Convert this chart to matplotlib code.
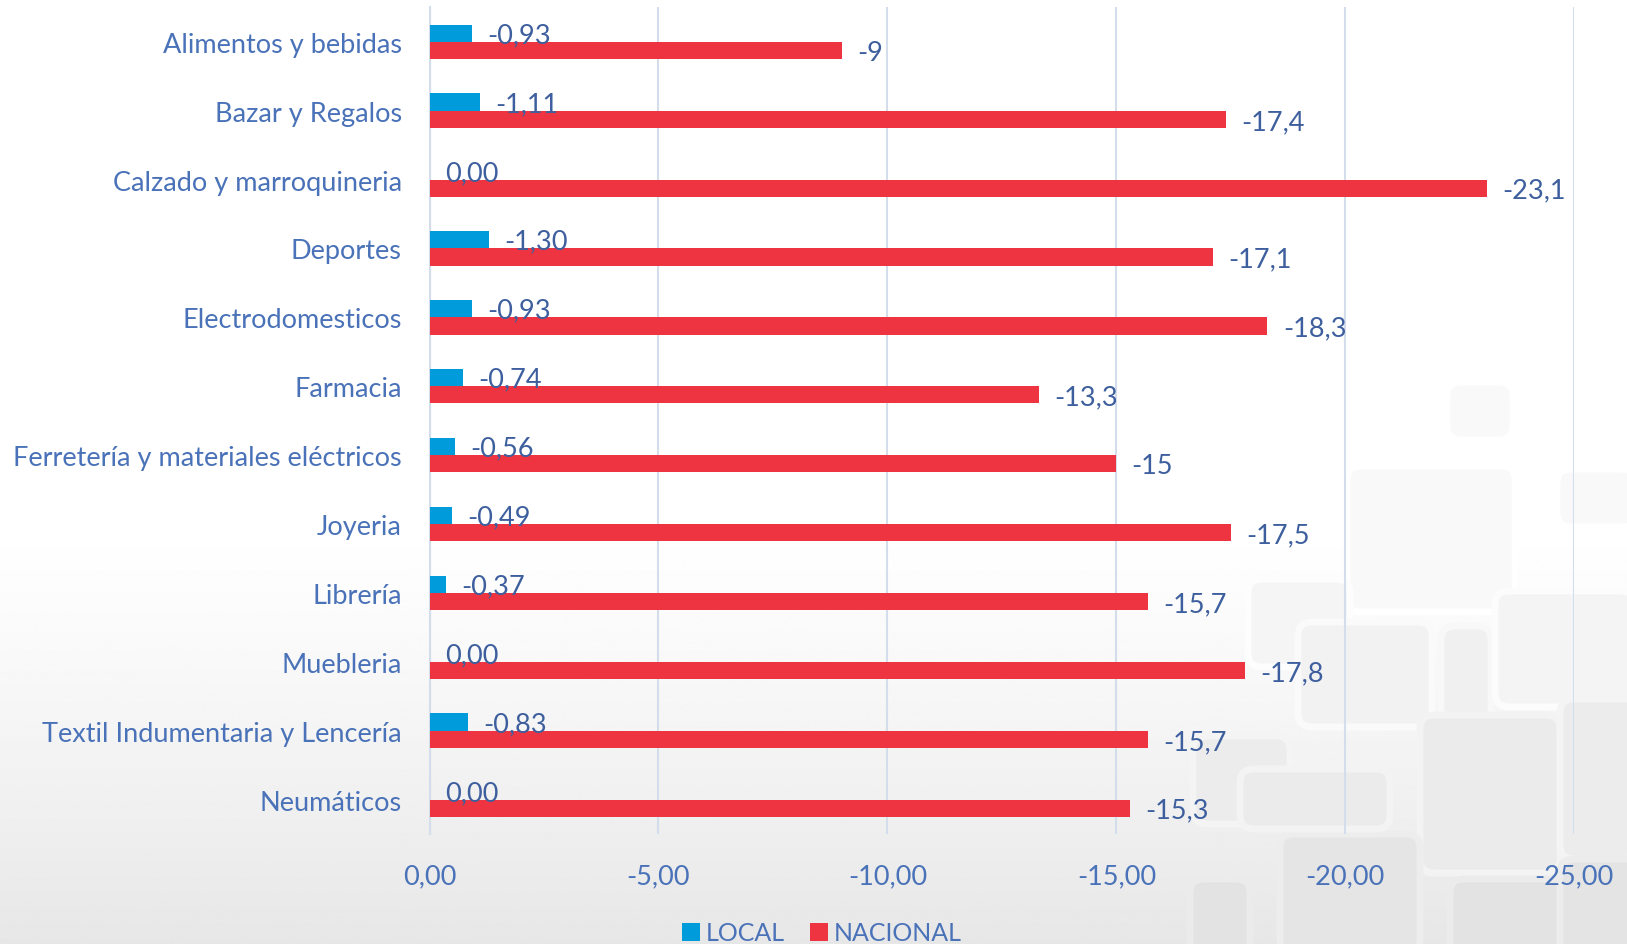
import numpy as np
import matplotlib
matplotlib.use("Agg")
import matplotlib.pyplot as plt
from matplotlib.patches import FancyBboxPatch

# data
categories = ["Alimentos y bebidas", "Bazar y Regalos", "Calzado y marroquineria",
              "Deportes", "Electrodomesticos", "Farmacia",
              "Ferretería y materiales eléctricos", "Joyeria", "Librería",
              "Muebleria", "Textil Indumentaria y Lencería", "Neumáticos"]
local_vals = [-0.93, -1.11, 0.00, -1.30, -0.93, -0.74, -0.56, -0.49, -0.37, 0.00, -0.83, 0.00]
nacional_vals = [-9, -17.4, -23.1, -17.1, -18.3, -13.3, -15, -17.5, -15.7, -17.8, -15.7, -15.3]
x_ticks = [0, -5, -10, -15, -20, -25]

blue = "#009BDB"
red = "#EE3440"
txt = "#4A72B8"
lbl = "#3E5F9E"
fs = 19.5

plt.rcParams["font.family"] = ["Lato", "DejaVu Sans"]

W, H = 1627, 945
fig = plt.figure(figsize=(W / 100, H / 100), dpi=100)


def bg_gray(yy):
    s = np.clip((yy / H - 0.55) / 0.45, 0, 1) ** 1.2
    return 1 - s * (1 - 0.905)


# background: white to light grey gradient plus rounded tile pattern
bg = fig.add_axes([0, 0, 1, 1], zorder=0)
col = bg_gray(np.linspace(0, H, 400))
grad = np.repeat(col[:, None], 2, axis=1)
bg.imshow(grad, cmap="gray", vmin=0, vmax=1, aspect="auto", extent=[0, W, H, 0])
tiles = [(1447, 383, 66, 58), (1557, 470, 80, 58),
         (1347, 467, 168, 146), (1248, 580, 102, 88),
         (1298, 623, 134, 105), (1441, 627, 50, 180),
         (1495, 592, 140, 116), (1193, 737, 97, 88),
         (1420, 716, 140, 158), (1560, 700, 80, 160),
         (1280, 835, 140, 120), (1450, 880, 180, 80),
         (1240, 770, 150, 60), (1560, 860, 80, 100),
         (1190, 880, 60, 80)]
for x, y, w, h in tiles:
    g = bg_gray(y + h / 2) - 0.022
    e = min(1.0, bg_gray(y + h / 2) + 0.01)
    bg.add_patch(FancyBboxPatch((x, y), w, h, boxstyle="round,pad=0,rounding_size=14",
                                facecolor=(g, g, g + 0.004), edgecolor=(e, e, e),
                                linewidth=5, zorder=2))
bg.set_xlim(0, W)
bg.set_ylim(H, 0)
bg.axis("off")

ax = fig.add_axes([0.264, 0.1164, 0.7036, 0.8748], zorder=1)
ax.set_facecolor("none")

y = np.arange(len(categories))
h = 0.25
ax.barh(y - h / 2, local_vals, height=h, color=blue, label="LOCAL", zorder=3)
ax.barh(y + h / 2, nacional_vals, height=h, color=red, label="NACIONAL", zorder=3)

for i in range(len(categories)):
    ax.annotate(f"{local_vals[i]:.2f}".replace(".", ","), (local_vals[i], y[i] - h / 2),
                xytext=(11, -1), textcoords="offset points", ha="left", va="center",
                fontsize=fs, color=lbl, zorder=4)
    v = nacional_vals[i]
    s = f"{v:g}".replace(".", ",")
    ax.annotate(s, (v, y[i] + h / 2), xytext=(11, -1.5), textcoords="offset points",
                ha="left", va="center", fontsize=fs, color=lbl, zorder=4)

ax.set_xlim(0, -25)
ax.set_ylim(11.5, -0.5)
ax.set_xticks(x_ticks)
ax.set_xticklabels([f"{v:.2f}".replace(".", ",") for v in x_ticks])
ax.set_yticks(y)
ax.set_yticklabels(categories)
ax.tick_params(axis="both", length=0, labelsize=fs, labelcolor=txt)
ax.tick_params(axis="x", pad=21)
ax.tick_params(axis="y", pad=20)
ax.grid(axis="x", color="#D3DDEB", linewidth=1.5, zorder=0)
for s in ["top", "right", "bottom"]:
    ax.spines[s].set_visible(False)
ax.spines["left"].set_color("#D3DDEB")
ax.spines["left"].set_linewidth(1.5)

leg = fig.legend(loc="center", bbox_to_anchor=(822 / W, 1 - 934 / H), ncol=2, frameon=False,
                 fontsize=18, handlelength=0.7, handleheight=0.7, handletextpad=0.25,
                 columnspacing=1.0)
for tx in leg.get_texts():
    tx.set_color(txt)

fig.savefig("out.png", dpi=100)
